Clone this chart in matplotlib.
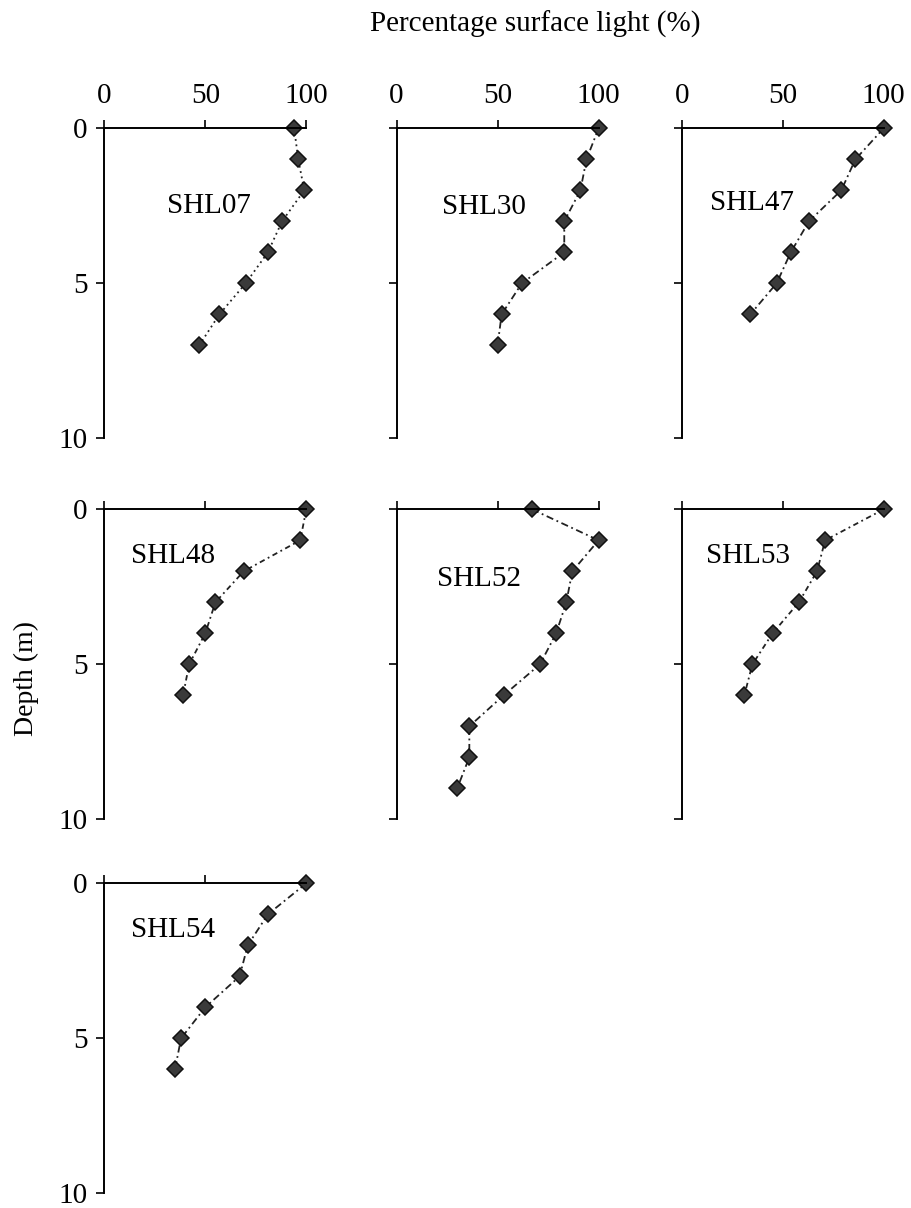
import matplotlib.pyplot as plt

plt.rcParams['font.family'] = ['Liberation Serif', 'DejaVu Serif']

# depth (m) and percentage of surface light for each station
names = ['SHL07', 'SHL30', 'SHL47', 'SHL48', 'SHL52', 'SHL53', 'SHL54']

depth07 = [0, 1, 2, 3, 4, 5, 6, 7]
light07 = [94, 96, 99, 88, 81, 70, 57, 47]

depth30 = [0, 1, 2, 3, 4, 5, 6, 7]
light30 = [100, 94, 91, 83, 83, 62, 52, 50]

depth47 = [0, 1, 2, 3, 4, 5, 6]
light47 = [100, 86, 79, 63, 54, 47, 34]

depth48 = [0, 1, 2, 3, 4, 5, 6]
light48 = [100, 97, 69, 55, 50, 42, 39]

depth52 = [0, 1, 2, 3, 4, 5, 6, 7, 8, 9]
light52 = [67, 100, 87, 84, 79, 71, 53, 36, 36, 30]

depth53 = [0, 1, 2, 3, 4, 5, 6]
light53 = [100, 71, 67, 58, 45, 35, 31]

depth54 = [0, 1, 2, 3, 4, 5, 6]
light54 = [100, 81, 71, 67, 50, 38, 35]

depths = [depth07, depth30, depth47, depth48, depth52, depth53, depth54]
lights = [light07, light30, light47, light48, light52, light53, light54]

# label positions inside each panel (data coords)
label_x = [52, 43, 35, 34, 41, 33, 34]
label_y = [2.5, 2.55, 2.4, 1.5, 2.25, 1.5, 1.5]

W, H = 911, 1208
fig = plt.figure(figsize=(W / 100, H / 100), dpi=100)

col_x = [104.3, 396.6, 681.7]
row_y = [128.3, 509.3, 883.3]
aw, ah = 202, 310

styles = [(0, (1, 2)), (0, (4, 2, 1, 2)), (0, (4, 2, 1, 2)), (0, (3, 2, 1, 2)),
          (0, (4, 2, 1, 2)), (0, (3, 2, 1, 2)), (0, (4, 2, 1, 2))]

for i in range(7):
    r, c = divmod(i, 3)
    ax = fig.add_axes([col_x[c] / W, 1 - (row_y[r] + ah) / H, aw / W, ah / H])
    ax.plot(lights[i], depths[i], linestyle=styles[i], color='#222222', lw=1.3,
            marker='D', ms=8.5, mfc='#3a3a3a', mec='#111111', mew=1.1, clip_on=False)
    ax.set_xlim(0, 100)
    ax.set_ylim(10, 0)
    ax.xaxis.tick_top()
    ax.set_xticks([0, 50, 100])
    ax.set_yticks([0, 5, 10])
    for s in ['right', 'bottom']:
        ax.spines[s].set_visible(False)
    for s in ['left', 'top']:
        ax.spines[s].set_linewidth(1.4)
    ax.tick_params(axis='x', direction='out', length=6, width=1.2, pad=8, labelsize=21)
    ax.tick_params(axis='y', direction='out', length=6, width=1.2, pad=6, labelsize=21)
    if r != 0:
        ax.set_xticklabels([])
    if c != 0:
        ax.set_yticklabels([])
    ax.text(label_x[i], label_y[i], names[i], fontsize=21, ha='center', va='center')

fig.text(535 / W, 1 - 24 / H, 'Percentage surface light (%)', fontsize=21,
         ha='center', va='center')
fig.text(26 / W, 1 - 678 / H, 'Depth (m)', fontsize=20, rotation=90,
         ha='center', va='center')

fig.savefig('out.png', dpi=100, facecolor='white')
